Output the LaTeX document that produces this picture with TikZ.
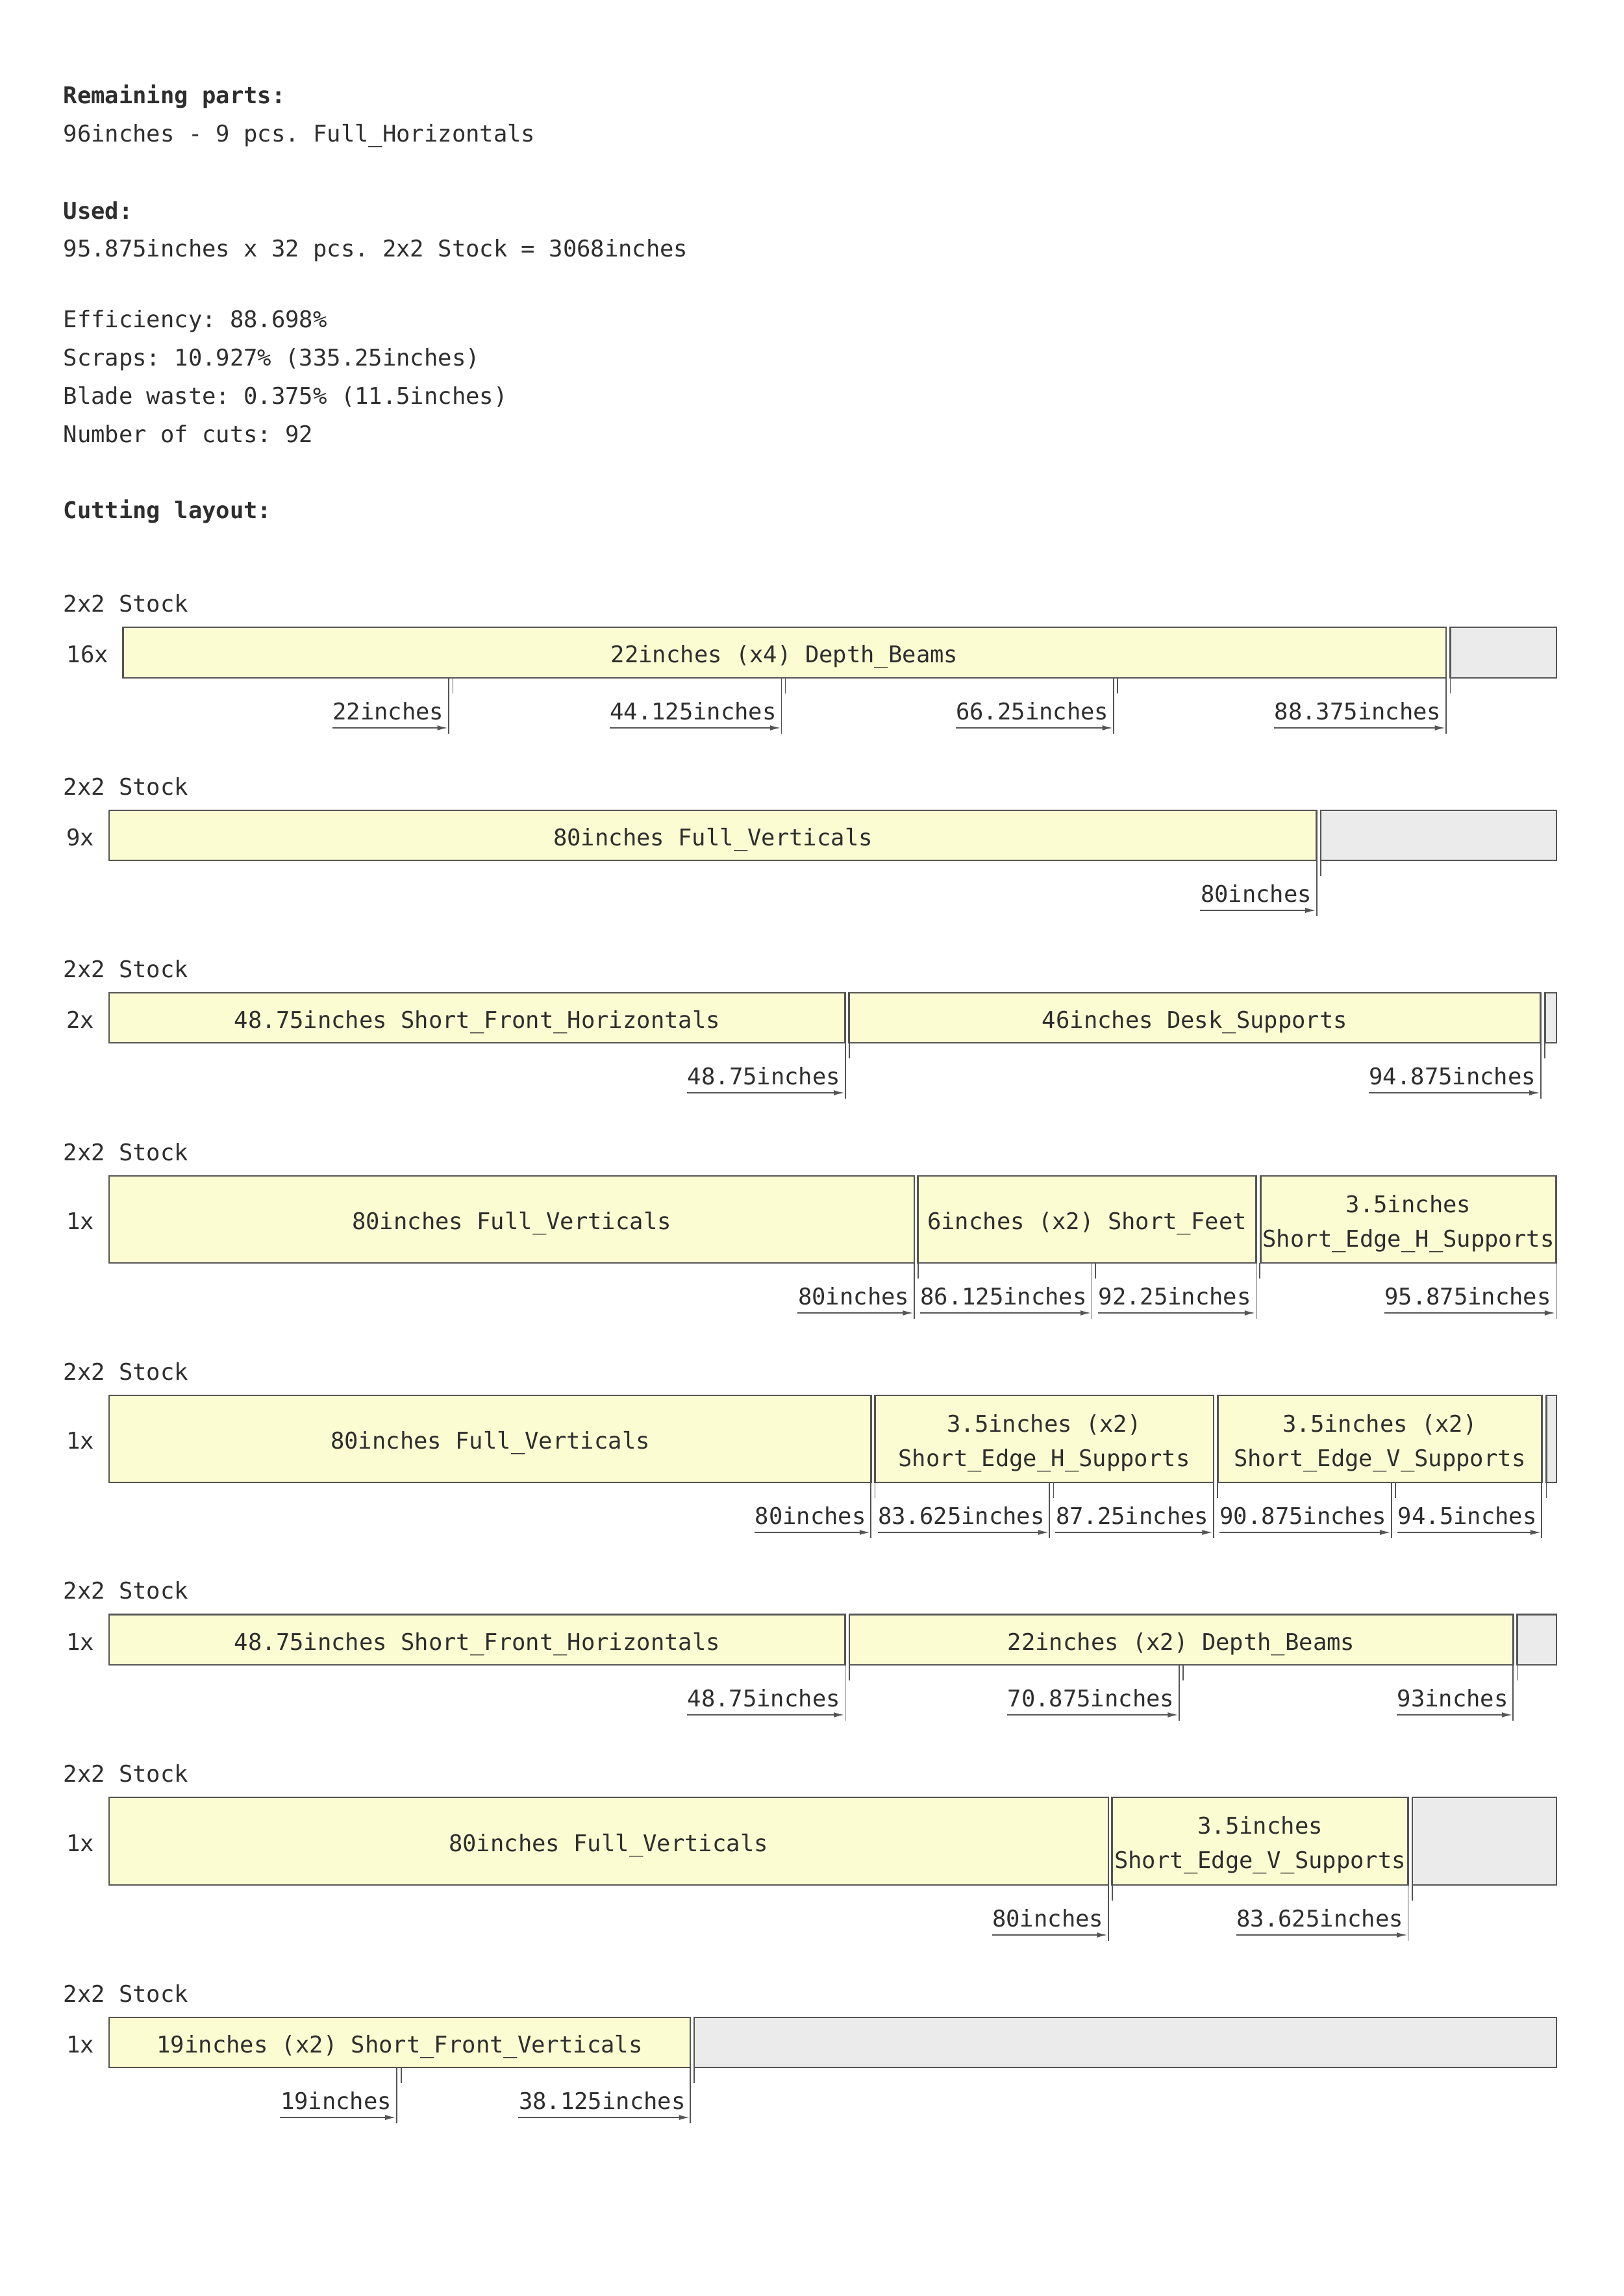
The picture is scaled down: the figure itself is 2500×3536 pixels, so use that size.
\documentclass[tikz,border=0pt]{standalone}
\usepackage{fontspec}
\setmainfont{DejaVu Sans Mono}
\usetikzlibrary{arrows.meta}
\frenchspacing
\definecolor{pfill}{HTML}{FCFCD2}
\definecolor{sfill}{HTML}{EBEBEB}
\definecolor{edge}{HTML}{555555}
\definecolor{ink}{HTML}{2E2E2E}
\tikzset{
  piece/.style={draw=edge, fill=pfill, line width=0.75pt},
  scrap/.style={draw=edge, fill=sfill, line width=0.75pt},
  cutline/.style={draw=edge, line width=0.5pt},
  dimarrow/.style={draw=edge, line width=0.45pt, -{Latex[length=4.8pt,width=2.4pt]}},
  txt/.style={inner sep=0pt, text=ink, font=\fontsize{10.65pt}{12pt}\selectfont},
  hdr/.style={inner sep=0pt, text=ink, font=\fontsize{10.65pt}{12pt}\selectfont\bfseries},
}
\newcommand\cutmark[4]{%
  \coordinate (#1t) at (#2,#3);
  \coordinate (#1b) at (#2,#3+86);
  \draw[cutline] (#1t) -- (#1b);
  \node[txt, anchor=base east] (#1l) at (#2-7,#3+64) {#4};
  \coordinate (#1a) at (#2-1.5,#3+77);
  \draw[dimarrow] (#1l.west |- #1a) -- (#1a);
}
\newcommand\kerfmark[3]{%
  \coordinate (#1t) at (#2,#3);
  \coordinate (#1b) at (#2,#3+24);
  \draw[cutline] (#1t) -- (#1b);
}
\begin{document}
\begin{tikzpicture}[x=0.3pt,y=-0.3pt]
\useasboundingbox (0,0) rectangle (2500,3536);
\fill[white] (0,0) rectangle (2500,3536);

% header
\node[hdr, anchor=base west] (h1) at (97,159) {Remaining parts:};
\node[txt, anchor=base west] (h2) at (97,218) {96inches - 9 pcs. Full\_Horizontals};
\node[hdr, anchor=base west] (h3) at (97,337) {Used:};
\node[txt, anchor=base west] (h4) at (97,395) {95.875inches x 32 pcs. 2x2 Stock = 3068inches};
\node[txt, anchor=base west] (h5) at (97,504) {Efficiency: 88.698\%};
\node[txt, anchor=base west] (h6) at (97,563) {Scraps: 10.927\% (335.25inches)};
\node[txt, anchor=base west] (h7) at (97,622) {Blade waste: 0.375\% (11.5inches)};
\node[txt, anchor=base west] (h8) at (97,681) {Number of cuts: 92};
\node[hdr, anchor=base west] (h9) at (97,798) {Cutting layout:};

% ---------- Row 1 ----------
\node[txt, anchor=base west] (s1) at (97,942) {2x2 Stock};
\node[txt, anchor=base east] (n1) at (167.5,1020.5) {16x};
\draw[piece] (189.5,966) rectangle (2227,1044);
\draw[scrap] (2233.5,966) rectangle (2397,1044);
\node[txt, anchor=base] (r1p1) at (1208,1020.5) {22inches (x4) Depth\_Beams};
\cutmark{r1c1}{691}{1044}{22inches}
\kerfmark{r1k1}{697.5}{1044}
\cutmark{r1c2}{1203.4}{1044}{44.125inches}
\kerfmark{r1k2}{1209.6}{1044}
\cutmark{r1c3}{1715}{1044}{66.25inches}
\kerfmark{r1k3}{1721}{1044}
\cutmark{r1c4}{2227}{1044}{88.375inches}
\kerfmark{r1k4}{2233.5}{1044}

% ---------- Row 2 ----------
\node[txt, anchor=base west] (s2) at (97,1224) {2x2 Stock};
\node[txt, anchor=base east] (n2) at (146,1302) {9x};
\draw[piece] (168,1248) rectangle (2027.7,1325);
\draw[scrap] (2034,1248) rectangle (2397,1325);
\node[txt, anchor=base] (r2p1) at (1098,1302) {80inches Full\_Verticals};
\cutmark{r2c1}{2027.7}{1325}{80inches}
\kerfmark{r2k1}{2034}{1325}

% ---------- Row 3 ----------
\node[txt, anchor=base west] (s3) at (97,1505) {2x2 Stock};
\node[txt, anchor=base east] (n3) at (146,1583) {2x};
\draw[piece] (168,1529) rectangle (1301.7,1606);
\draw[piece] (1307.7,1529) rectangle (2372.7,1606);
\draw[scrap] (2379.3,1529) rectangle (2397,1606);
\node[txt, anchor=base] (r3p1) at (735,1583) {48.75inches Short\_Front\_Horizontals};
\node[txt, anchor=base] (r3p2) at (1840,1583) {46inches Desk\_Supports};
\cutmark{r3c1}{1301.7}{1606}{48.75inches}
\kerfmark{r3k1}{1307.7}{1606}
\cutmark{r3c2}{2372.7}{1606}{94.875inches}
\kerfmark{r3k2}{2379.3}{1606}

% ---------- Row 4 ----------
\node[txt, anchor=base west] (s4) at (97,1787) {2x2 Stock};
\node[txt, anchor=base east] (n4) at (146,1893.5) {1x};
\draw[piece] (168,1811) rectangle (1407.8,1945);
\draw[piece] (1413.7,1811) rectangle (1934.4,1945);
\draw[piece] (1941.7,1811) rectangle (2396.4,1945);
\node[txt, anchor=base] (r4p1) at (788,1893.5) {80inches Full\_Verticals};
\node[txt, anchor=base] (r4p2) at (1674,1893.5) {6inches (x2) Short\_Feet};
\node[txt, anchor=base] (r4p3a) at (2169,1867) {3.5inches};
\node[txt, anchor=base] (r4p3b) at (2169,1920) {Short\_Edge\_H\_Supports};
\cutmark{r4c1}{1407.8}{1945}{80inches}
\kerfmark{r4k1}{1413.7}{1945}
\cutmark{r4c2}{1681.4}{1945}{86.125inches}
\kerfmark{r4k2}{1687}{1945}
\cutmark{r4c3}{1934.4}{1945}{92.25inches}
\kerfmark{r4k3}{1940.3}{1945}
\cutmark{r4c4}{2396.4}{1945}{95.875inches}

% ---------- Row 5 ----------
\node[txt, anchor=base west] (s5) at (97,2125) {2x2 Stock};
\node[txt, anchor=base east] (n5) at (146,2231.5) {1x};
\draw[piece] (168,2149) rectangle (1341.3,2283);
\draw[piece] (1347.5,2149) rectangle (1868.8,2283);
\draw[piece] (1875.3,2149) rectangle (2374.3,2283);
\draw[scrap] (2381.5,2149) rectangle (2397,2283);
\node[txt, anchor=base] (r5p1) at (755,2231.5) {80inches Full\_Verticals};
\node[txt, anchor=base] (r5p2a) at (1608,2205) {3.5inches (x2)};
\node[txt, anchor=base] (r5p2b) at (1608,2258) {Short\_Edge\_H\_Supports};
\node[txt, anchor=base] (r5p3a) at (2125,2205) {3.5inches (x2)};
\node[txt, anchor=base] (r5p3b) at (2125,2258) {Short\_Edge\_V\_Supports};
\cutmark{r5c1}{1341.3}{2283}{80inches}
\kerfmark{r5k1}{1347.5}{2283}
\cutmark{r5c2}{1616.3}{2283}{83.625inches}
\kerfmark{r5k2}{1622.5}{2283}
\cutmark{r5c3}{1868.8}{2283}{87.25inches}
\kerfmark{r5k3}{1875.3}{2283}
\cutmark{r5c4}{2142.7}{2283}{90.875inches}
\kerfmark{r5k4}{2148.7}{2283}
\cutmark{r5c5}{2374.3}{2283}{94.5inches}
\kerfmark{r5k5}{2381.5}{2283}

% ---------- Row 6 ----------
\node[txt, anchor=base west] (s6) at (97,2462.5) {2x2 Stock};
\node[txt, anchor=base east] (n6) at (146,2541) {1x};
\draw[piece] (168,2486.5) rectangle (1301.5,2564);
\draw[piece] (1307.8,2486.5) rectangle (2330.3,2564);
\draw[scrap] (2336.6,2486.5) rectangle (2397,2564);
\node[txt, anchor=base] (r6p1) at (735,2541) {48.75inches Short\_Front\_Horizontals};
\node[txt, anchor=base] (r6p2) at (1819,2541) {22inches (x2) Depth\_Beams};
\cutmark{r6c1}{1301.5}{2564}{48.75inches}
\kerfmark{r6k1}{1307.8}{2564}
\cutmark{r6c2}{1815.8}{2564}{70.875inches}
\kerfmark{r6k2}{1822}{2564}
\cutmark{r6c3}{2330.3}{2564}{93inches}
\kerfmark{r6k3}{2336.6}{2564}

% ---------- Row 7 ----------
\node[txt, anchor=base west] (s7) at (97,2744) {2x2 Stock};
\node[txt, anchor=base east] (n7) at (146,2851) {1x};
\draw[piece] (168,2768) rectangle (1706.8,2903);
\draw[piece] (1712.7,2768) rectangle (2168.6,2903);
\draw[scrap] (2175,2768) rectangle (2397,2903);
\node[txt, anchor=base] (r7p1) at (937,2851) {80inches Full\_Verticals};
\node[txt, anchor=base] (r7p2a) at (1940.6,2824.5) {3.5inches};
\node[txt, anchor=base] (r7p2b) at (1940.6,2877.5) {Short\_Edge\_V\_Supports};
\cutmark{r7c1}{1706.8}{2903}{80inches}
\kerfmark{r7k1}{1712.7}{2903}
\cutmark{r7c2}{2168.6}{2903}{83.625inches}
\kerfmark{r7k2}{2175}{2903}

% ---------- Row 8 ----------
\node[txt, anchor=base west] (s8) at (97,3083) {2x2 Stock};
\node[txt, anchor=base east] (n8) at (146,3161) {1x};
\draw[piece] (168,3107) rectangle (1063.2,3184);
\draw[scrap] (1068.8,3107) rectangle (2397,3184);
\node[txt, anchor=base] (r8p1) at (615.6,3161) {19inches (x2) Short\_Front\_Verticals};
\cutmark{r8c1}{610.7}{3184}{19inches}
\kerfmark{r8k1}{617.7}{3184}
\cutmark{r8c2}{1063.2}{3184}{38.125inches}
\kerfmark{r8k2}{1068.8}{3184}
\end{tikzpicture}
\end{document}
